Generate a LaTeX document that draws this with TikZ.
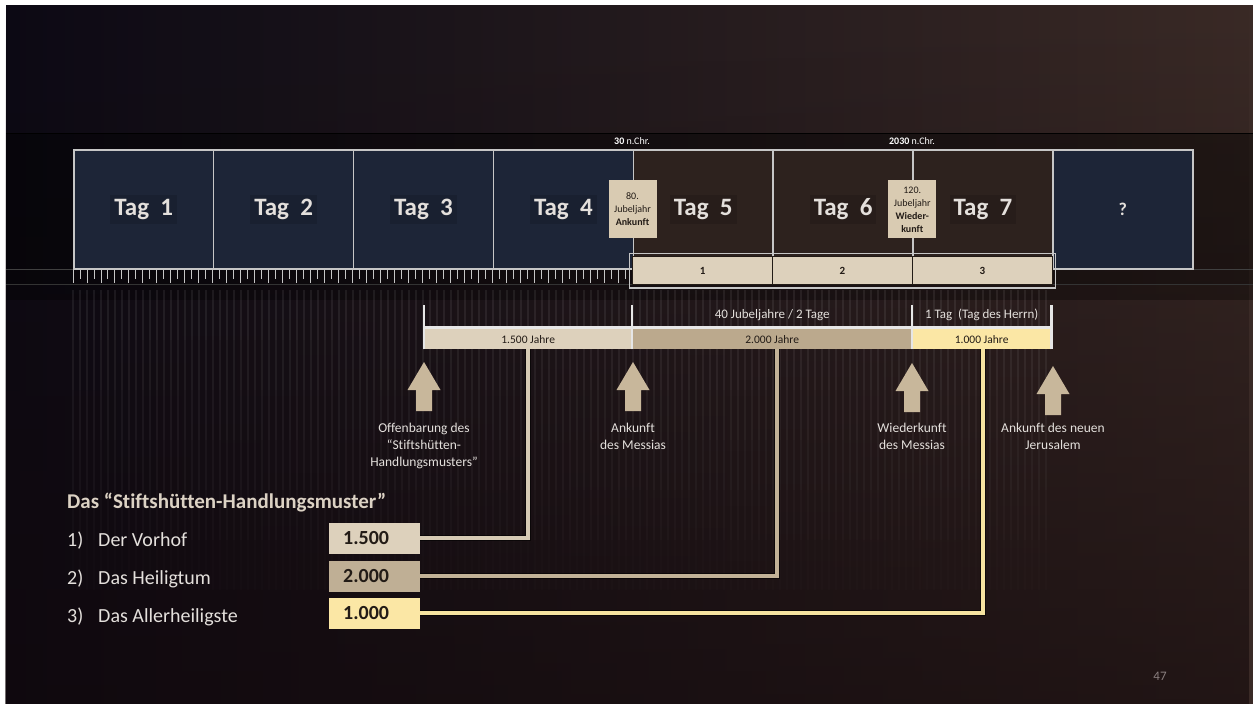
\documentclass[tikz,border=0pt]{standalone}
\usepackage{fontspec}
\setmainfont{Carlito}[Ligatures=NoCommon]
\usepackage{xcolor}
\usetikzlibrary{calc,fadings}

\definecolor{bgl}{HTML}{0C0A15}
\definecolor{bgm}{HTML}{17121A}
\definecolor{bgr}{HTML}{3A2A26}
\definecolor{bgbottom}{HTML}{12080A}
\definecolor{navyday}{HTML}{1D2537}
\definecolor{brownday}{HTML}{2D221E}
\definecolor{frame}{HTML}{C6C6C6}
\definecolor{sandA}{HTML}{DDD1BC}
\definecolor{sandB}{HTML}{BBA98D}
\definecolor{sandC}{HTML}{FBE7A5}
\definecolor{valB}{HTML}{BFAF95}
\definecolor{connA}{HTML}{D6CAB4}
\definecolor{connB}{HTML}{C2B297}
\definecolor{connC}{HTML}{F6E3A0}
\definecolor{arrowc}{HTML}{C8B79B}
\definecolor{jubelc}{HTML}{D9CBB2}
\definecolor{inkdark}{HTML}{221B16}
\definecolor{softwhite}{HTML}{E4E0DC}
\definecolor{titlec}{HTML}{DCD2C4}
\definecolor{bracketc}{HTML}{E6E6E6}
\definecolor{pagec}{HTML}{8A7F7F}

\begin{document}
\begin{tikzpicture}[x=1pt,y=-1pt,
  day/.style={draw=frame,line width=1.6pt,minimum width=139.875pt,minimum height=119pt,inner sep=0pt,anchor=north west},
  daytxt/.style={font=\fontsize{25}{28}\selectfont\bfseries,text=softwhite,fill=black,fill opacity=.12,text opacity=1,inner sep=4pt},
  jubel/.style={fill=jubelc,minimum width=48pt,minimum height=58pt,inner sep=0pt,align=center,text=inkdark,font=\fontsize{10}{13}\selectfont},
  rowbox/.style={fill=sandA,draw=inkdark,line width=1.3pt,minimum width=139.875pt,minimum height=28pt,anchor=north west,inner sep=0pt,font=\fontsize{11}{13}\selectfont\bfseries,text=inkdark},
  yearlbl/.style={font=\fontsize{10}{12}\selectfont,text=white},
  bar/.style={minimum height=20pt,anchor=north west,inner sep=0pt,font=\fontsize{11.5}{13}\selectfont,text=inkdark},
  spanlbl/.style={font=\fontsize{13}{15}\selectfont,text=softwhite},
  evtlbl/.style={font=\fontsize{13.5}{17}\selectfont,text=softwhite,align=center,anchor=north,inner sep=0pt},
  valbox/.style={anchor=west,minimum height=31pt,text width=63pt,inner xsep=14pt,inner ysep=0pt,align=left,font=\fontsize{20}{22}\selectfont\bfseries,text=inkdark},
  conn/.style={line width=3.6pt},
  shadowline/.style={line width=6.5pt,black,opacity=.55},
  bracket/.style={draw=bracketc,line width=2.4pt},
  listtxt/.style={anchor=base west,inner sep=0pt,font=\fontsize{20}{24}\selectfont,text=softwhite}]

  \useasboundingbox (0,0) rectangle (1253,704);
  \fill[white] (0,0) rectangle (1253,704);
  \shade[left color=bgl,middle color=bgm,right color=bgr] (6,5) rectangle (1253,704);
  \fill[bgbottom,path fading=north,opacity=.6] (6,5) rectangle (1253,704);

  \fill[black,opacity=.4] (6,133) rectangle (1253,284);
  \fill[black,opacity=.3] (6,284) rectangle (1253,300);
  \draw[black,line width=1pt] (6,133) -- (1253,133);
  \draw[white!25!black,line width=.8pt] (6,269) -- (1253,269);
  \draw[white!20!black,line width=.8pt] (6,284) -- (1253,284);

  \foreach \s/\op in {0/0.07,1/0.058,2/0.046,3/0.034,4/0.022,5/0.011}
    \foreach \k in {0,...,139}
      \draw[white,opacity=\op,line width=1.2pt] ({73+\k*7},{290+\s*50}) -- ++(0,50);

  \foreach \k in {0,...,80} {
    \pgfmathsetmacro\tl{ifthenelse(mod(\k,2)==0,14,10)}
    \draw[frame,line width=.9pt] ({73+\k*6.9875},269) -- ++(0,\tl);
  }

  \foreach \i/\c in {1/navyday,2/navyday,3/navyday,4/navyday,5/brownday,6/brownday,7/brownday,8/navyday}
    \node[day,fill=\c] (d\i) at ({73+(\i-1)*139.875},149) {};
  \foreach \i in {1,...,7}
    \node[daytxt] (t\i) at (d\i) {Tag~~\i};
  \node[font=\fontsize{18}{20}\selectfont\bfseries,text=softwhite] (t8) at (d8) {?};

  \foreach \i in {1,2,3}
    \node[rowbox] (r\i) at ({632+(\i-1)*139.875},256) {\i};
  \draw[frame,line width=1.4pt] ($(r1.north west)+(-2.5,-2.5)$) rectangle ($(r3.south east)+(2.5,2.5)$);

  \node[jubel] (j80) at (d5.west) {80.\\Jubeljahr\\\textbf{Ankunft}};
  \node[jubel] (j120) at (d7.west) {120.\\Jubeljahr\\\textbf{Wieder-}\\\textbf{kunft}};

  \node[yearlbl] (y30) at (632,141) {\textbf{30} n.Chr.};
  \node[yearlbl] (y2030) at (912,141) {\textbf{2030} n.Chr.};

  \node[bar,fill=sandA,minimum width=208pt] (b1) at (424,329) {1.500 Jahre};
  \node[bar,fill=sandB,minimum width=280pt] (b2) at (632,329) {2.000 Jahre};
  \node[bar,fill=sandC,minimum width=139pt] (b3) at (912,329) {1.000 Jahre};

  \draw[bracket] ($(b1.north west)+(0,-1.5)$) -- ($(b3.north east)+(0,-1.5)$);
  \draw[bracket] (b1.south west) -- ++(0,-44);
  \draw[bracket] (b2.south west) -- ++(0,-44);
  \draw[bracket] (b3.south west) -- ++(0,-44);
  \draw[bracket] (b3.south east) -- ++(0,-44);

  \node[spanlbl] (s1) at ($(b2.north)+(0,-14)$) {40 Jubeljahre / 2 Tage};
  \node[spanlbl] (s2) at ($(b3.north)+(0,-14)$) {1 Tag~~(Tag des Herrn)};

  \foreach \ax/\ay in {424/362,633/362,912/363,1053/366}
    \fill[arrowc] (\ax,\ay) -- ++(16.5,28) -- ++(-8.5,0) -- ++(0,21) -- ++(-16,0) -- ++(0,-21) -- ++(-8.5,0) -- cycle;

  \node[evtlbl] (e1) at (424,423) {Offenbarung des\\“Stiftshütten-\\Handlungsmusters”};
  \node[evtlbl] (e2) at (633,423) {Ankunft\\des Messias};
  \node[evtlbl] (e3) at (912,423) {Wiederkunft\\des Messias};
  \node[evtlbl] (e4) at (1053,423) {Ankunft des neuen\\Jerusalem};

  \node[anchor=base west,inner sep=0pt,font=\fontsize{21}{24}\selectfont\bfseries,text=titlec] (ttl) at (67,508) {Das “Stiftshütten-Handlungsmuster”};
  \node[listtxt] (n1) at (67,546) {1)};
  \node[listtxt] (i1) at (98,546) {Der Vorhof};
  \node[listtxt] (n2) at (67,584) {2)};
  \node[listtxt] (i2) at (98,584) {Das Heiligtum};
  \node[listtxt] (n3) at (67,622) {3)};
  \node[listtxt] (i3) at (98,622) {Das Allerheiligste};

  \node[valbox,fill=sandA] (v1) at (329,538) {1.500};
  \node[valbox,fill=valB] (v2) at (329,576) {2.000};
  \node[valbox,fill=sandC] (v3) at (329,613) {1.000};

  \draw[shadowline] (b1.south) |- (v1.east);
  \draw[conn,connA] (b1.south) |- (v1.east);
  \draw[shadowline] ($(b2.south)+(5,0)$) |- (v2.east);
  \draw[conn,connB] ($(b2.south)+(5,0)$) |- (v2.east);
  \draw[shadowline] ($(b3.south)+(1.5,0)$) |- (v3.east);
  \draw[conn,connC] ($(b3.south)+(1.5,0)$) |- (v3.east);

  \node[font=\fontsize{13}{15}\selectfont,text=pagec] (pg) at (1160,676) {47};
\end{tikzpicture}
\end{document}
